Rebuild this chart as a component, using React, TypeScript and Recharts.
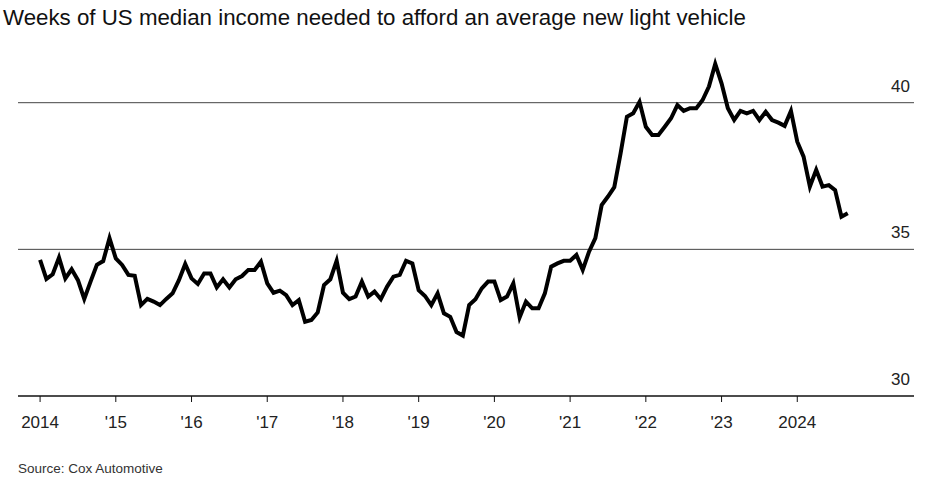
import { Line, LineChart, ReferenceLine, XAxis, YAxis } from "recharts";

// monthly, Jan 2014 .. Sep 2024
const weeksNeeded = [
  34.64, 33.99, 34.15, 34.72, 34.01, 34.32, 33.95, 33.31, 33.9, 34.47, 34.6, 35.38,
  34.69, 34.47, 34.13, 34.1, 33.1, 33.31, 33.22, 33.1, 33.31, 33.5, 33.95, 34.5,
  34.01, 33.82, 34.18, 34.18, 33.7, 33.98, 33.7, 33.98, 34.09, 34.3, 34.3, 34.58,
  33.84, 33.52, 33.59, 33.44, 33.1, 33.27, 32.53, 32.59, 32.85, 33.78, 33.98, 34.61,
  33.52, 33.3, 33.39, 33.9, 33.39, 33.56, 33.3, 33.73, 34.07, 34.13, 34.61, 34.52,
  33.61, 33.41, 33.1, 33.5, 32.82, 32.7, 32.18, 32.06, 33.1, 33.3, 33.67, 33.9,
  33.9, 33.27, 33.39, 33.84, 32.68, 33.22, 32.99, 32.99, 33.5, 34.41, 34.52, 34.61,
  34.61, 34.81, 34.3, 34.92, 35.38, 36.51, 36.8, 37.12, 38.27, 39.52, 39.64, 40.03,
  39.18, 38.9, 38.9, 39.18, 39.47, 39.92, 39.72, 39.81, 39.81, 40.09, 40.55, 41.32,
  40.66, 39.81, 39.41, 39.72, 39.64, 39.72, 39.41, 39.69, 39.41, 39.32, 39.21, 39.72,
  38.67, 38.16, 37.14, 37.71, 37.14, 37.19, 37.02, 36.11, 36.23,
];

const yearLabels = ["2014", "'15", "'16", "'17", "'18", "'19", "'20", "'21", "'22", "'23", "2024"];
const yTicks = [30, 35, 40];

const data = weeksNeeded.map((v, i) => ({ m: i, v }));
const xTicks = yearLabels.map((_, i) => i * 12);

const font = "'Liberation Sans', Arial, sans-serif";

// value label sits just above its gridline, flush right
const rightLabel = (value: number) => (props: any) => {
  const vb = props.viewBox || {};
  return (
    <text
      x={vb.x + vb.width - 4}
      y={vb.y - 11}
      textAnchor="end"
      fontSize={17}
      fill="#222"
      fontFamily={font}
    >
      {value}
    </text>
  );
};

export default function App() {
  return (
    <div
      style={{
        position: "absolute",
        top: 0,
        left: 0,
        width: 933,
        height: 481,
        background: "#fff",
        fontFamily: font,
      }}
    >
      <div
        style={{
          position: "absolute",
          left: 3,
          top: 5,
          fontSize: 22.3,
          color: "#111",
          whiteSpace: "nowrap",
        }}
      >
        Weeks of US median income needed to afford an average new light vehicle
      </div>
      <LineChart
        width={933}
        height={481}
        data={data}
        margin={{ top: 58.7, right: 19, left: 18, bottom: 55 }}
      >
        <XAxis
          type="number"
          dataKey="m"
          domain={[-3.5, 138.5]}
          ticks={xTicks}
          tickFormatter={(t: number) => yearLabels[t / 12]}
          height={30}
          tickSize={6}
          tickMargin={14}
          stroke="#111"
          tick={{ fontSize: 17, fill: "#222", fontFamily: font }}
          axisLine={{ stroke: "#111", strokeWidth: 1.5 }}
          tickLine={{ stroke: "#111" }}
        />
        <YAxis hide domain={[30, 41.5]} ticks={yTicks} />
        {yTicks.map((t) => (
          <ReferenceLine
            key={t}
            y={t}
            stroke={t === 30 ? "none" : "#444"}
            strokeWidth={1}
            label={rightLabel(t)}
          />
        ))}
        <Line
          type="linear"
          dataKey="v"
          stroke="#000"
          strokeWidth={4}
          dot={false}
          isAnimationActive={false}
        />
      </LineChart>
      <div
        style={{
          position: "absolute",
          left: 18,
          top: 461,
          fontSize: 13.5,
          color: "#333",
          whiteSpace: "nowrap",
        }}
      >
        Source: Cox Automotive
      </div>
    </div>
  );
}
